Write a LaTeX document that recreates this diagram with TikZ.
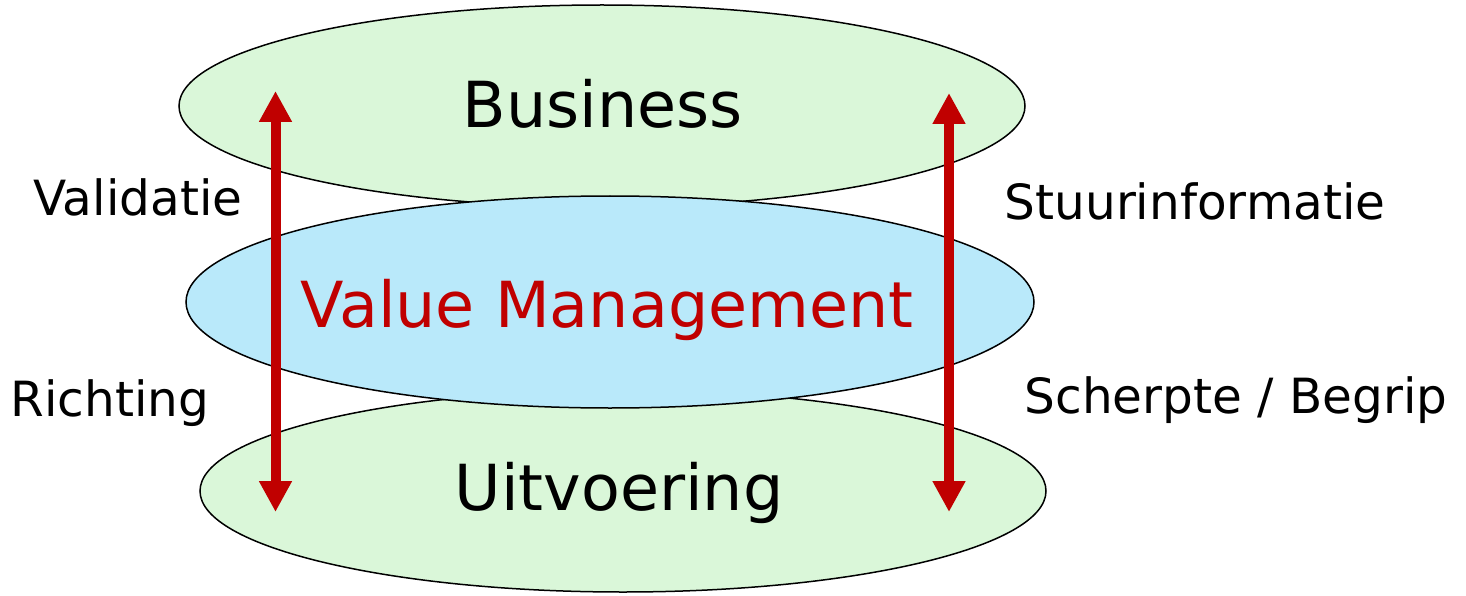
\documentclass[tikz,border=0pt]{standalone}
\usepackage{fontspec}
\setmainfont{DejaVu Sans}
\usetikzlibrary{arrows.meta}
\definecolor{lgreen}{HTML}{DAF7D9}
\definecolor{lblue}{HTML}{B9E9FA}
\definecolor{dred}{HTML}{C00000}
\tikzset{
  layer/.style={fill=lgreen, draw=black, line width=1.5pt},
  big/.style={font=\fontsize{63.5}{70}\selectfont, anchor=base},
  side/.style={font=\fontsize{48.5}{54}\selectfont, anchor=base},
  flow/.style={draw=dred, line width=10pt, {Triangle[length=31pt,width=31pt]}-{Triangle[length=31pt,width=31pt]}},
}
\begin{document}
\begin{tikzpicture}[x=1pt,y=-1pt]
\useasboundingbox (0,0) rectangle (1466,596);
\filldraw[layer] (602,106) ellipse [x radius=423, y radius=101];
\filldraw[layer] (623,491) ellipse [x radius=423, y radius=101];
\filldraw[layer, fill=lblue] (610,302) ellipse [x radius=424, y radius=106];
\node[big] (bus) at (603,128) {Business};
\node[big, text=dred] (vm) at (607,327) {Value Management};
\node[big] (uit) at (619,510) {Uitvoering};
\node[side] (val) at (138,215) {Validatie};
\node[side] (stu) at (1195,219) {Stuurinformatie};
\node[side] (ric) at (110,416) {Richting};
\node[side] (sch) at (1236,413) {Scherpte / Begrip};
\coordinate (la) at (275.5,91);
\coordinate (lb) at (275.5,512);
\coordinate (ra) at (949,93);
\coordinate (rb) at (949,512);
\draw[flow] (la) -- (lb);
\draw[flow] (ra) -- (rb);
\end{tikzpicture}
\end{document}
